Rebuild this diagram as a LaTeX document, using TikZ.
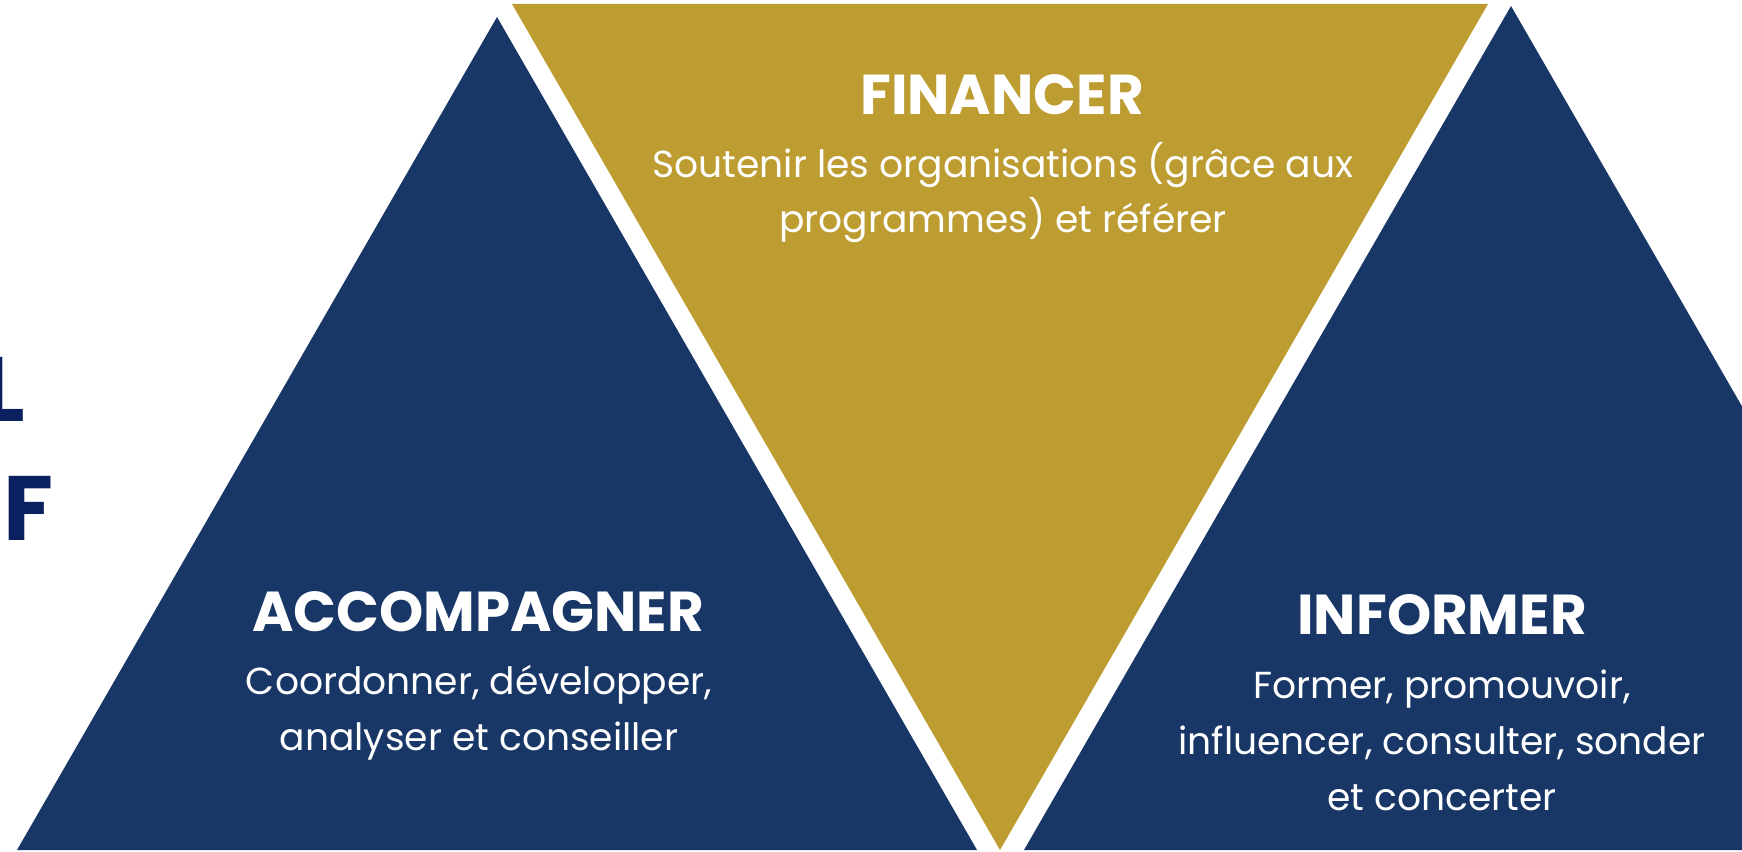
\documentclass[tikz,border=0pt]{standalone}
\usepackage{fontspec}
\setsansfont{Poppins}
\usetikzlibrary{positioning}
\definecolor{navyblue}{HTML}{183767}
\definecolor{goldfill}{HTML}{BD9C31}
\definecolor{darkletter}{HTML}{0B215F}

\begin{document}
\begin{tikzpicture}[x=0.01cm, y=-0.01cm,
    headline/.style={text=white, inner sep=0pt, anchor=base, font=\sffamily\bfseries\fontsize{16}{19}\selectfont},
    desc/.style={text=white, inner sep=0pt, anchor=base, align=center, font=\sffamily\fontsize{10.7}{15.9}\selectfont},
    sideletter/.style={text=darkletter, inner sep=0pt, font=\sffamily\bfseries\fontsize{26}{30}\selectfont}]
    \useasboundingbox (0,0) rectangle (1742,852);
    \clip (0,0) rectangle (1742,852);

    % Define triangles
    \fill[navyblue] (497,17) -- (17,850) -- (977,850) -- cycle;
    \fill[goldfill] (512,4) -- (1488,4) -- (1000,850) -- cycle;
    \fill[navyblue] (1511,6) -- (1024,850) -- (1998,850) -- cycle;

    % Define nodes (desc nodes sit on their last line)
    \node[headline] (fin) at (1002,115) {FINANCER};
    \node[desc] (findesc) at (1003,233) {Soutenir les organisations (grâce aux\\programmes) et référer};

    \node[headline] (acc) at (478,632) {ACCOMPAGNER};
    \node[desc] (accdesc) at (479,750) {Coordonner, développer,\\analyser et conseiller};

    \node[headline] (inf) at (1442,634) {INFORMER};
    \node[desc] (infdesc) at (1442,810) {Former, promouvoir,\\influencer, consulter, sonder\\et concerter};

    % side letters, the L runs off the left edge
    \node[sideletter, anchor=base east] (sl) at (26,422) {L};
    \node[sideletter, anchor=base west] (sf) at (3,541) {F};

\end{tikzpicture}
\end{document}
